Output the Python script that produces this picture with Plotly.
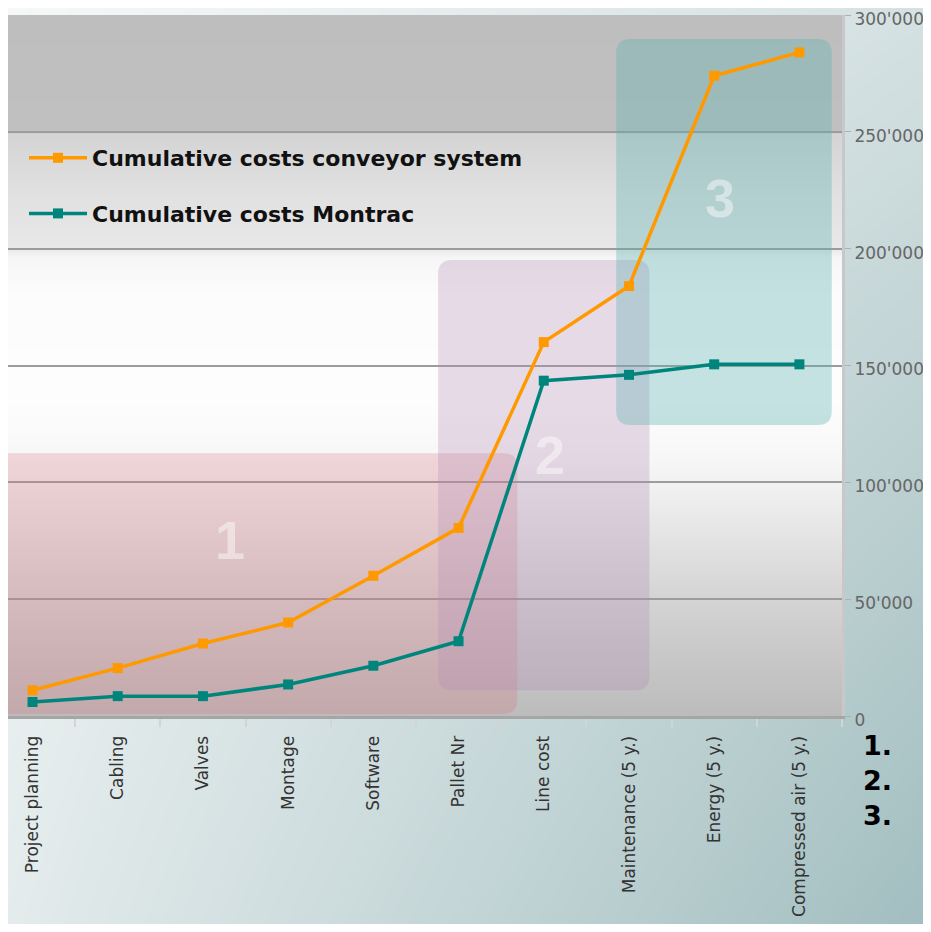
import plotly.graph_objects as go

# ---------------- data ----------------
categories = ["Project planning", "Cabling", "Valves", "Montage", "Software",
              "Pallet Nr", "Line cost", "Maintenance (5 y.)", "Energy (5 y.)",
              "Compressed air (5 y.)"]
conveyor = [11000, 20500, 31000, 40000, 60000, 80500, 160000, 184000, 274000, 284000]
montrac = [6000, 8500, 8500, 13500, 21500, 32000, 143500, 146000, 150500, 150500]
series_names = ["Cumulative costs conveyor system", "Cumulative costs Montrac"]
phase_labels = ["1", "2", "3"]
side_list = ["1.", "2.", "3."]

# ---------------- geometry / style ----------------
OFF = 8                                   # page body margin
W, H = 931 - 2 * OFF, 932 - 2 * OFF
PL, PR, PT, PB = 0, 842 - OFF, 15 - OFF, 716 - OFF   # plot area in figure pixels
dx0, dx1 = PL / W, PR / W
dy0, dy1 = (H - PB) / H, (H - PT) / H
XR = [-0.2876, 9.5]
YR = [0, 300000]

ORANGE = "#ff9900"
TEAL = "#00857c"

# phase regions (category-index units, value units)
regions = [
    dict(x=(-0.7, 5.69), y=(900, 112500), color="rgba(215,110,125,0.25)"),
    dict(x=(4.76, 7.24), y=(11000, 195200), color="rgba(178,138,178,0.30)"),
    dict(x=(6.85, 9.38), y=(124500, 289700), color="rgba(98,178,178,0.36)"),
]
label_pos = [(2.32, 75300), (6.07, 111700), (8.07, 221700)]


def rrect(x0, y0, x1, y1, rpx=14):
    rx = rpx * (XR[1] - XR[0]) / (PR - PL)
    ry = rpx * (YR[1] - YR[0]) / (PB - PT)
    return (f"M{x0+rx},{y0} L{x1-rx},{y0} Q{x1},{y0} {x1},{y0+ry} "
            f"L{x1},{y1-ry} Q{x1},{y1} {x1-rx},{y1} L{x0+rx},{y1} "
            f"Q{x0},{y1} {x0},{y1-ry} L{x0},{y0+ry} Q{x0},{y0} {x0+rx},{y0} Z")


fig = go.Figure()

# outer background gradient (whole figure)
fig.add_trace(go.Heatmap(
    x=[0, 1], y=[0, 1], z=[[0.22, 1.0], [0.0, 0.4]],
    colorscale=[[0, "#f6f8f8"], [1, "#a2bec0"]], zmin=0, zmax=1,
    zsmooth="best", showscale=False, hoverinfo="skip",
    xaxis="x", yaxis="y"))

# plot-area vertical gradient
g_stops = [0.0, 0.06, 0.18, 0.29, 0.37, 0.45, 0.60, 0.655, 0.668, 0.75, 0.830, 0.836, 1.0]
g_vals = [188, 196, 214, 234, 247, 253, 252, 246, 232, 224, 212, 192, 190]
fig.add_trace(go.Heatmap(
    x=[0, 1], y=g_stops, z=[[g, g] for g in g_vals],
    colorscale=[[0, "rgb(0,0,0)"], [1, "rgb(255,255,255)"]], zmin=0, zmax=255,
    zsmooth="best", showscale=False, hoverinfo="skip",
    xaxis="x2", yaxis="y2"))

# data series
for name, vals, col in [(series_names[0], conveyor, ORANGE), (series_names[1], montrac, TEAL)]:
    fig.add_trace(go.Scatter(
        x=categories, y=vals, name=name, mode="lines+markers",
        legendgroup=name,
        line=dict(color=col, width=3.5),
        marker=dict(symbol="square", size=10, color=col),
        xaxis="x3", yaxis="y3"))

shapes = []
for r in regions:
    shapes.append(dict(
        type="path", xref="x3", yref="y3",
        path=rrect(r["x"][0], r["y"][0], r["x"][1], r["y"][1]),
        fillcolor=r["color"], line=dict(width=0), layer="between"))

annotations = []
for lab, (lx, ly) in zip(phase_labels, label_pos):
    annotations.append(dict(
        x=lx, y=ly, xref="x3", yref="y3", text=lab, showarrow=False,
        font=dict(family="Liberation Sans, Arial", size=54, color="rgba(255,255,255,0.45)",
                  weight="bold")))
for i, t in enumerate(side_list):
    annotations.append(dict(
        x=(861 - OFF) / W, y=1 - (745 + 35 * i - OFF) / H, xref="paper", yref="paper",
        xanchor="left", yanchor="middle", text=t, showarrow=False,
        font=dict(family="DejaVu Sans", size=27, color="#000000", weight="bold")))

fig.update_layout(
    width=W, height=H,
    margin=dict(l=0, r=0, t=0, b=0, pad=0, autoexpand=False),
    paper_bgcolor="#e8eeee",
    plot_bgcolor="rgba(0,0,0,0)",
    separators=".'",
    showlegend=True,
    legend=dict(x=16 / W, y=1 - (137 - OFF) / H, xanchor="left", yanchor="top",
                bgcolor="rgba(0,0,0,0)", traceorder="grouped", tracegroupgap=24,
                itemwidth=58,
                font=dict(family="DejaVu Sans", size=22, color="#111111", weight="bold")),
    xaxis=dict(domain=[0, 1], range=[0, 1], visible=False, fixedrange=True, anchor="y",
               automargin=False),
    yaxis=dict(domain=[0, 1], range=[0, 1], visible=False, fixedrange=True, anchor="x",
               automargin=False),
    xaxis2=dict(domain=[dx0, dx1], range=[0, 1], visible=False, anchor="y2", automargin=False),
    yaxis2=dict(domain=[dy0, dy1], range=[0, 1], visible=False, anchor="x2", automargin=False),
    xaxis3=dict(domain=[dx0, dx1], anchor="y3", type="category", range=XR,
                tickson="boundaries", ticks="outside", ticklen=8, tickwidth=2,
                tickcolor="#d4d4d4", showline=True, linecolor="#a6a6a6", linewidth=3,
                tickangle=-90, showgrid=False, automargin=False, ticklabelstandoff=10,
                tickfont=dict(family="DejaVu Sans", size=17, color="#333333")),
    yaxis3=dict(domain=[dy0, dy1], anchor="x3", side="right", range=YR, dtick=50000,
                tickformat=",d", showgrid=True, gridcolor="#9c9c9c", gridwidth=2,
                showline=True, linecolor="#c8c8c8", linewidth=3, ticks="outside",
                ticklen=6, tickcolor="#b0b0b0", zeroline=False, automargin=False,
                ticklabeloverflow="allow", ticklabelshift=4,
                tickfont=dict(family="DejaVu Sans", size=17, color="#666666")),
    shapes=shapes,
    annotations=annotations,
)

fig.write_html("out.html")
